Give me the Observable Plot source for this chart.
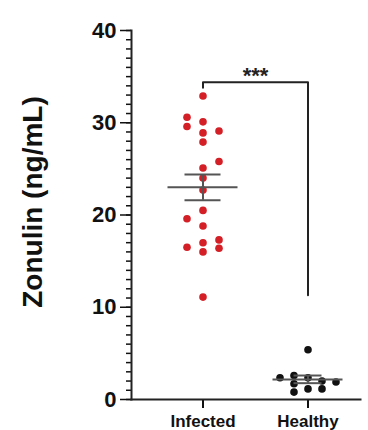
<!DOCTYPE html>
<html>
<head>
<meta charset="utf-8">
<script src="https://cdn.jsdelivr.net/npm/d3@7"></script>
<script src="https://cdn.jsdelivr.net/npm/@observablehq/plot@0.6"></script>
<style>
  html, body { margin: 0; padding: 0; background: #fff; }
  #chart svg { display: block; }
</style>
</head>
<body>
<div id="chart"></div>
<script>
// ---- data ----
const groups = ["Infected", "Healthy"];
const infectedValues = [32.9, 30.6, 29.6, 30.1, 29.1, 28.9, 27.9, 25.8, 25.1, 24.0, 22.7, 20.5, 19.6, 18.8, 17.3, 16.5, 17.0, 16.4, 16.0, 11.1];
const infectedSlots  = [0, -1, -1, 0, 1, 0, 0, 1, 0, 0, 0, 0, -1, 0, 1, -1, 0, 1, 0, 0];
const healthyValues  = [5.4, 2.35, 2.6, 1.7, 0.8, 2.35, 1.15, 2.0, 1.15, 1.9];
const healthySlots   = [0, -2, -1, -1, -1, 0, 0, 1, 1, 2];
const groupMeans = [23.0, 2.17];
const semLow  = [21.6, 1.77];
const semHigh = [24.4, 2.6];
const yTicks = [0, 10, 20, 30, 40];
const yMinorTicks = d3.range(0, 41, 1);
const yLabel = "Zonulin (ng/mL)";
const bracketGroups = ["Infected", "Infected", "Healthy", "Healthy"];
const bracketValues = [33.8, 34.4, 34.4, 11.3];
const sigLabel = "***";

// ---- styles ----
const dotColor = {Infected: "#d41f26", Healthy: "#111111"};
const slotStep = {Infected: 16, Healthy: 14};
const capInset = {Infected: 34.5, Healthy: 38.5};
const errColor = "#555555";

const points = [
  ...infectedValues.map((v, i) => ({group: "Infected", value: v, slot: infectedSlots[i]})),
  ...healthyValues.map((v, i) => ({group: "Healthy", value: v, slot: healthySlots[i]}))
];
const summary = groups.map((g, i) => ({group: g, mean: groupMeans[i], lo: semLow[i], hi: semHigh[i]}));
const bracket = bracketGroups.map((g, i) => ({group: g, value: bracketValues[i]}));

const dotMarks = [];
for (const g of groups) {
  const slots = Array.from(new Set(points.filter(d => d.group === g).map(d => d.slot)));
  for (const s of slots) {
    dotMarks.push(Plot.dot(points.filter(d => d.group === g && d.slot === s), {
      x: "group", y: "value", r: 3.8, fill: dotColor[g], stroke: "none", dx: s * slotStep[g]
    }));
  }
}
const capMarks = [];
for (const g of groups) {
  const rows = summary.filter(d => d.group === g);
  capMarks.push(Plot.tickY(rows, {x: "group", y: "lo", stroke: errColor, strokeWidth: 2, insetLeft: capInset[g], insetRight: capInset[g]}));
  capMarks.push(Plot.tickY(rows, {x: "group", y: "hi", stroke: errColor, strokeWidth: 2, insetLeft: capInset[g], insetRight: capInset[g]}));
}

const chart = Plot.plot({
  width: 368,
  height: 430,
  marginLeft: 131,
  marginRight: 8,
  marginTop: 30,
  marginBottom: 31,
  style: {fontFamily: "'Liberation Sans', Arial, sans-serif", fontWeight: "bold", color: "#111", background: "#fff"},
  x: {type: "band", domain: groups, range: [149.5, 359.5], padding: 0},
  y: {domain: [0, 40]},
  marks: [
    Plot.axisY(yMinorTicks, {tickSize: 5, tickFormat: () => "", label: null, strokeWidth: 1.5}),
    Plot.axisY(yTicks, {tickSize: 11, tickPadding: 4, fontSize: 22, label: null, strokeWidth: 1.5}),
    Plot.axisX({tickSize: 9, tickPadding: 6, fontSize: 17, label: null, strokeWidth: 2}),
    Plot.frame({anchor: "left", stroke: "#222", strokeWidth: 2}),
    Plot.frame({anchor: "bottom", stroke: "#222", strokeWidth: 2}),
    Plot.text([yLabel], {frameAnchor: "left", textAnchor: "middle", lineAnchor: "middle", rotate: -90, dx: -98, dy: -13, fontSize: 28, fontWeight: "bold", fill: "#111"}),
    ...dotMarks,
    Plot.tickY(summary, {x: "group", y: "mean", stroke: errColor, strokeWidth: 2, insetLeft: 17.5, insetRight: 17.5}),
    Plot.ruleX(summary, {x: "group", y1: "lo", y2: "hi", stroke: errColor, strokeWidth: 2}),
    ...capMarks,
    Plot.line(bracket, {x: "group", y: "value", stroke: "#222", strokeWidth: 2, curve: "linear"}),
    Plot.text([sigLabel], {x: () => "Infected", y: () => 34.4, dx: 52.5, dy: 1, lineAnchor: "bottom", fontSize: 22, fontWeight: "bold", fill: "#222"})
  ]
});
document.getElementById("chart").appendChild(chart);
</script>
</body>
</html>
